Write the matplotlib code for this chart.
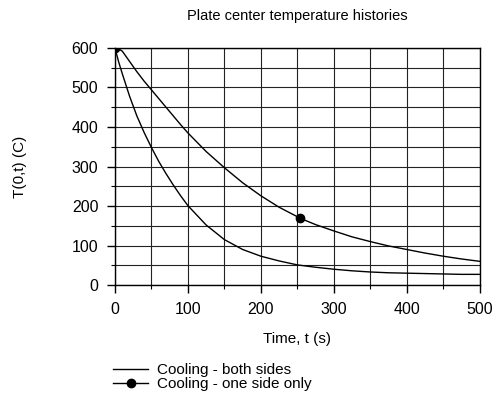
import matplotlib.pyplot as plt
from matplotlib.ticker import MultipleLocator

plt.rcParams['font.family'] = ['Liberation Sans', 'DejaVu Sans']

# time points (s)
t = [0, 5, 10, 20, 30, 40, 50, 60, 70, 80, 90, 100, 125, 150, 175, 200, 225,
     250, 254, 275, 300, 325, 350, 375, 400, 425, 450, 475, 500]
# center temperature, cooling both sides (C)
both = [600, 565, 535, 478, 428, 386, 348, 313, 282, 253, 226, 201, 152, 115,
        90, 73, 61, 51, 50, 45, 40, 36, 33, 31, 30, 29, 28, 27, 27]
# center temperature, cooling one side only (C)
one = [600, 598, 592, 566, 540, 516, 494, 472, 450, 428, 406, 385, 338, 297,
       259, 226, 197, 173, 169, 153, 137, 122, 110, 99, 90, 81, 73, 66, 60]

fig = plt.figure(figsize=(4.92, 3.94), dpi=100)
ax = fig.add_axes([0.2337, 0.2766, 0.741, 0.6016])

ax.plot(t, both, color='black', lw=1.0, label='Cooling - both sides')
ax.plot(t, one, color='black', lw=1.0, marker='o', ms=6,
        markevery=[0, 18], label='Cooling - one side only')

ax.set_xlim(0, 500)
ax.set_ylim(0, 600)
ax.xaxis.set_major_locator(MultipleLocator(100))
ax.xaxis.set_minor_locator(MultipleLocator(50))
ax.yaxis.set_major_locator(MultipleLocator(100))
ax.yaxis.set_minor_locator(MultipleLocator(50))
ax.grid(which='both', color='#222222', lw=0.8)
ax.set_axisbelow(True)
ax.tick_params(which='major', direction='out', length=6, width=1,
               labelsize=11.5, pad=6)
ax.tick_params(which='minor', direction='out', length=3, width=0.8)
for s in ax.spines.values():
    s.set_linewidth(1.0)

ax.set_title('Plate center temperature histories', fontsize=10.5, pad=20)
ax.set_xlabel('Time, t (s)', fontsize=11, labelpad=11)
ax.set_ylabel('T(0,t) (C)', fontsize=11, labelpad=32)

ax.legend(loc='upper left', bbox_to_anchor=(-0.022, -0.305), frameon=False,
          fontsize=11, handlelength=2.3, handletextpad=0.55,
          labelspacing=0.0, borderaxespad=0)

plt.savefig('out.png', dpi=100)
